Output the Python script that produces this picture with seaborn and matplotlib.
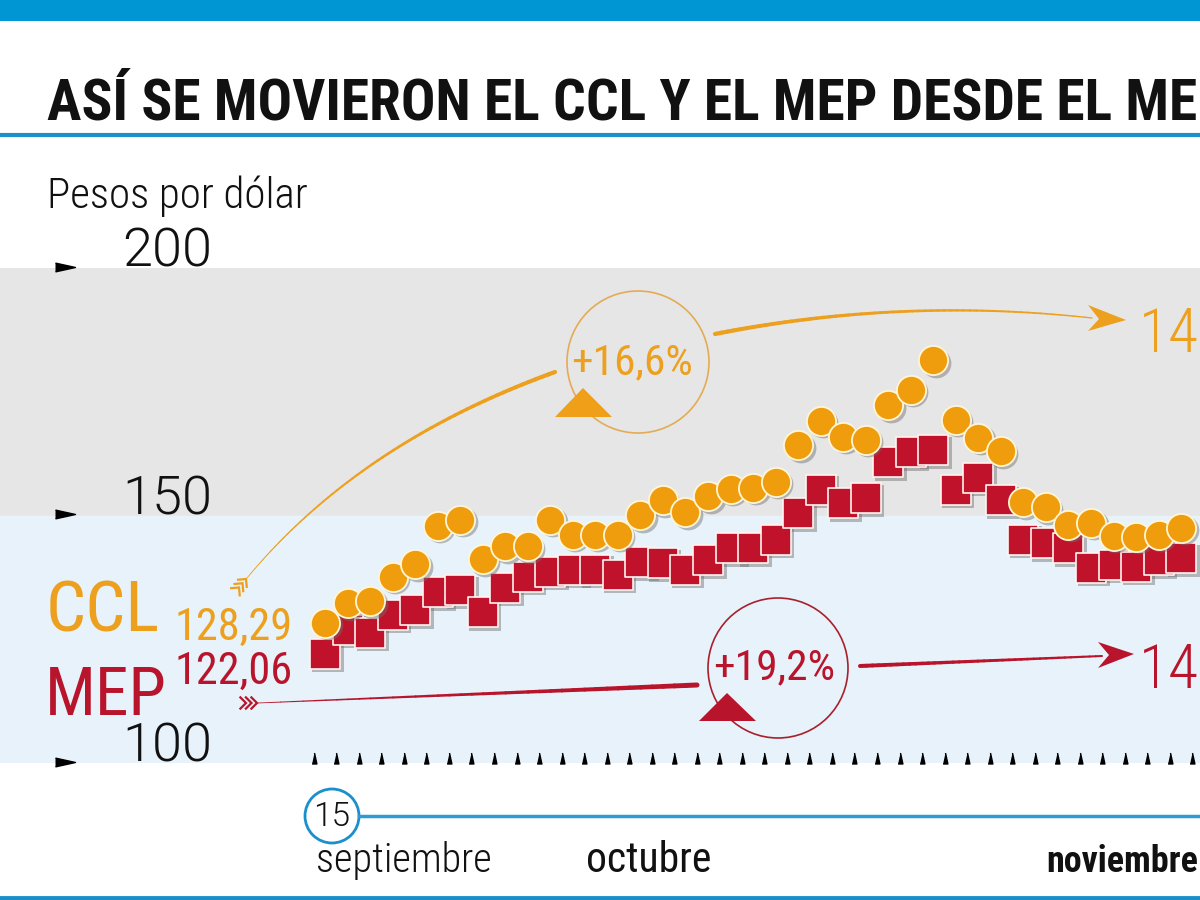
import os
import numpy as np
import pandas as pd
import matplotlib
matplotlib.use("Agg")
import matplotlib.pyplot as plt
import matplotlib.transforms as mtransforms
from matplotlib import font_manager as fm
from matplotlib.patches import Rectangle, Circle, Polygon
from matplotlib.collections import LineCollection
import seaborn as sns

# pesos por dolar, one value per trading day from 15 September
ccl = [128.29, 132.3, 132.7, 137.6, 140.2, 147.9, 149.1, 141.2, 143.8, 143.8,
       149.1, 146.1, 146.1, 146.1, 150.1, 153.1, 150.7, 153.9, 155.4, 155.6,
       156.8, 164.2, 169.1, 165.9, 165.3, 172.3, 175.4, 181.4, 169.3, 165.7,
       163.0, 152.7, 151.7, 148.1, 148.5, 145.9, 145.7, 146.1, 147.5]
mep = [122.06, 126.9, 126.3, 129.9, 130.9, 134.5, 134.9, 130.5, 135.4, 137.6,
       138.6, 139.0, 139.0, 138.0, 140.6, 140.4, 139.0, 141.0, 143.4, 143.4,
       145.1, 150.5, 155.2, 152.5, 153.5, 160.8, 162.8, 163.2, 155.2, 157.6,
       153.1, 145.1, 144.4, 143.4, 139.4, 140.0, 139.6, 141.0, 141.4]
y_ticks = [100, 150, 200]
months = ["septiembre", "octubre", "noviembre"]
start_labels = ["128,29", "122,06"]
change_labels = ["+16,6%", "+19,2%"]
end_labels = ["14", "14"]

ORANGE = "#f09d0d"
ORANGE_TXT = "#eca01e"
CRIMSON = "#c1122b"
CRIMSON_TXT = "#b8152c"
BLUE = "#1a8fcc"

df = pd.DataFrame({"dia": np.arange(len(ccl)), "CCL": ccl, "MEP": mep})

_files = {os.path.basename(f.fname).lower(): f.fname for f in fm.fontManager.ttflist}


def font(names, keywords=(), family="DejaVu Sans", weight="normal"):
    # exact file names first, then any installed file whose name holds all keywords
    for n in names:
        p = _files.get(n.lower())
        if p:
            return fm.FontProperties(fname=p)
    for kw in keywords:
        for base, p in sorted(_files.items()):
            if all(k in base for k in kw):
                return fm.FontProperties(fname=p)
    return fm.FontProperties(family=family, weight=weight)


F_TITLE = font(["RobotoCondensed-Bold.ttf", "OpenSans-CondBold.ttf", "NotoSans-ExtraCondensedBold.ttf",
                "NotoSans-CondensedBold.ttf", "LiberationSansNarrow-Bold.ttf"],
               keywords=[("condensed", "bold"), ("cond", "bold"), ("narrow", "bold"),
                         ("dejavusanscondensed-bold",)], weight="bold")
F_BIG = font(["RobotoCondensed-Regular.ttf", "NotoSans-ExtraCondensed.ttf", "NotoSans-Condensed.ttf",
              "LiberationSansNarrow-Regular.ttf"],
             keywords=[("condensed-regular",), ("narrow-regular",), ("dejavusanscondensed.ttf",)])
F_CLIGHT = font(["RobotoCondensed-Light.ttf", "OpenSans-CondLight.ttf", "NotoSans-CondensedLight.ttf"],
                keywords=[("condensed", "light"), ("condlight",), ("dejavusanscondensed.ttf",)])
F_THIN = font(["NotoSans-ExtraLight.ttf", "Roboto-Light.ttf", "Lato-Light.ttf", "NotoSans-Light.ttf"],
              family="Lato", weight="light")

fig = plt.figure(figsize=(12, 9), dpi=100)
renderer = fig.canvas.get_renderer()


def fit(t, width):
    w = t.get_window_extent(renderer).width
    if w > width:
        t.set_fontsize(t.get_fontsize() * width / w)
    return t


# main chart area: 100 at y=763 px, 200 at y=268 px ; day 0 at x=325 px, 22.53 px per day
px_day = 22.53
ax = fig.add_axes([0, 137 / 900, 1, 495 / 900], zorder=2)
ax.set_axis_off()
ax.axhspan(150, 200, color="#e6e6e6", zorder=0)
ax.axhspan(100, 150, color="#e8f2fa", zorder=0)

shadow = ax.transData + mtransforms.ScaledTranslation(2.5 / 100, -2.5 / 100, fig.dpi_scale_trans)
sns.scatterplot(data=df, x="dia", y="MEP", marker="s", s=500, color="#6e6e6e", alpha=0.45,
                linewidth=0, ax=ax, transform=shadow, zorder=2, legend=False)
sns.scatterplot(data=df, x="dia", y="MEP", marker="s", s=480, color=CRIMSON,
                edgecolor="#fff4f0", linewidth=1.2, ax=ax, zorder=3, legend=False)
sns.scatterplot(data=df, x="dia", y="CCL", marker="o", s=460, color="#6e6e6e", alpha=0.45,
                linewidth=0, ax=ax, transform=shadow, zorder=4, legend=False)
sns.scatterplot(data=df, x="dia", y="CCL", marker="o", s=440, color=ORANGE,
                edgecolor="#fff6d8", linewidth=1.3, ax=ax, zorder=5, legend=False)

ax.set_xlim(-325 / px_day, (1200 - 325) / px_day)
ax.set_ylim(100, 200)

# day ticks along the bottom
tick_mk = [(-0.22, -0.5), (0.22, -0.5), (0, 0.5)]
ax.plot(np.arange(len(ccl) + 1) - 0.5, [101.1] * (len(ccl) + 1), ls="none", marker=tick_mk,
        ms=7.9, color="black", clip_on=False, zorder=6)

# overlay in pixel coordinates for decoration
deco = fig.add_axes([0, 0, 1, 1], zorder=5)
deco.set_xlim(0, 1200)
deco.set_ylim(900, 0)
deco.set_axis_off()
deco.patch.set_alpha(0)
blend = mtransforms.blended_transform_factory(deco.transData, ax.transData)
blend_x = mtransforms.blended_transform_factory(ax.transData, deco.transData)

deco.add_patch(Rectangle((0, 0), 1200, 21, color="#0095d3", lw=0))
deco.plot([0, 1200], [135, 135], color=BLUE, lw=3)
deco.plot([0, 1200], [897.5, 897.5], color=BLUE, lw=3.5)

fit(deco.text(47, 119, "ASÍ SE MOVIERON EL CCL Y EL MEP DESDE EL ME", fontproperties=F_TITLE,
              size=44, va="baseline", ha="left", color="#111111"), 1150)
fit(deco.text(47, 208, "Pesos por dólar", fontproperties=F_CLIGHT, size=31, va="baseline",
              color="#111111"), 288)

left_mk = [(-0.5, -0.22), (0.5, 0), (-0.5, 0.22)]
for v in y_ticks:
    deco.text(212, v + 0.3, str(v), transform=blend, fontproperties=F_THIN, size=39,
              ha="right", va="baseline", color="#111111")
    deco.plot([65], [v + 0.3], transform=blend, marker=left_mk, ms=14.4, color="black",
              ls="none", clip_on=False)

# series names and starting values
fit(deco.text(160, 632, "CCL", fontproperties=F_BIG, size=76, ha="right", va="baseline",
              color=ORANGE_TXT), 114)
fit(deco.text(167, 715, "MEP", fontproperties=F_BIG, size=76, ha="right", va="baseline",
              color=CRIMSON_TXT), 122)
fit(deco.text(175, 640, start_labels[0], fontproperties=F_BIG, size=35, va="baseline",
              color=ORANGE_TXT), 118)
fit(deco.text(175, 684, start_labels[1], fontproperties=F_BIG, size=35, va="baseline",
              color=CRIMSON_TXT), 118)


def bezier(p0, p1, p2, n=60):
    t = np.linspace(0, 1, n)[:, None]
    return (1 - t) ** 2 * np.array(p0) + 2 * (1 - t) * t * np.array(p1) + t ** 2 * np.array(p2)


def taper(pts, w0, w1, color):
    segs = np.stack([pts[:-1], pts[1:]], axis=1)
    lc = LineCollection(segs, linewidths=np.linspace(w0, w1, len(segs)) * 0.72,
                        colors=color, capstyle="round")
    deco.add_collection(lc)


def fletch(tip, direction, color, n=3, gap=5.5, arm=8):
    d = np.array(direction, float)
    d /= np.hypot(*d)
    nrm = np.array([-d[1], d[0]])
    for k in range(n):
        apex = np.array(tip) - d * gap * k
        a = apex - d * arm * 0.7 + nrm * arm * 0.7
        b = apex - d * arm * 0.7 - nrm * arm * 0.7
        deco.plot([a[0], apex[0], b[0]], [a[1], apex[1], b[1]], color=color, lw=1.6,
                  solid_joinstyle="miter")


# CCL arrow
c1 = bezier((247, 578), (359, 443), (555, 372))
taper(c1, 0.8, 4.2, ORANGE_TXT)
fletch((246, 579), (112, -135), ORANGE_TXT)
c2 = bezier((715, 334), (902, 297), (1092, 318))
taper(c2, 4.2, 1.3, ORANGE_TXT)
deco.add_patch(Polygon([(1126, 320), (1088, 305), (1099, 319), (1088, 331)], color=ORANGE_TXT, lw=0))
deco.add_patch(Circle((638, 362), 71, fill=False, ec="#e4ab55", lw=1.2))
fit(deco.text(632, 363, change_labels[0], fontproperties=F_BIG, size=55, ha="center", va="center",
              color=ORANGE_TXT), 122)
deco.add_patch(Polygon([(555, 417), (612, 417), (583, 388)], color="#ef9f18", lw=0))
fit(deco.text(1199, 352, end_labels[0], fontproperties=F_CLIGHT, size=80, ha="right", va="baseline",
              color=ORANGE_TXT), 60)

# MEP arrow
r1 = np.column_stack([np.linspace(258, 697, 40), np.linspace(703, 685, 40)])
taper(r1, 0.8, 5.0, CRIMSON_TXT)
fletch((257, 703), (1, 0), CRIMSON_TXT)
r2 = np.column_stack([np.linspace(860, 1102, 40), np.linspace(666, 656, 40)])
taper(r2, 4.0, 2.0, CRIMSON_TXT)
deco.add_patch(Polygon([(1134, 654), (1098, 642), (1109, 655), (1098, 668)], color=CRIMSON_TXT, lw=0))
deco.add_patch(Circle((778, 668), 70, fill=False, ec="#a8202c", lw=1.2))
fit(deco.text(774, 668, change_labels[1], fontproperties=F_BIG, size=55, ha="center", va="center",
              color=CRIMSON_TXT), 122)
deco.add_patch(Polygon([(699, 721), (756, 721), (727, 693)], color=CRIMSON_TXT, lw=0))
fit(deco.text(1199, 688, end_labels[1], fontproperties=F_CLIGHT, size=80, ha="right", va="baseline",
              color=CRIMSON_TXT), 60)

# time axis
deco.plot([359, 1200], [816, 816], color="#2f9bd4", lw=2.5)
deco.add_patch(Circle((332, 816), 27, fc="white", ec=BLUE, lw=2))
deco.text(332, 817, "15", fontproperties=F_THIN, size=24, ha="center", va="center", color="#111111")
month_pos = [-0.4, 11.6, 32.0]
month_fonts = [F_CLIGHT, F_BIG, F_TITLE]
month_width = [176, 128, 152]
for name, xp, fp, w in zip(months, month_pos, month_fonts, month_width):
    fit(deco.text(xp, 872, name, transform=blend_x, fontproperties=fp, size=30, va="baseline",
                  color="#111111"), w)

fig.savefig("out.png", dpi=100)
